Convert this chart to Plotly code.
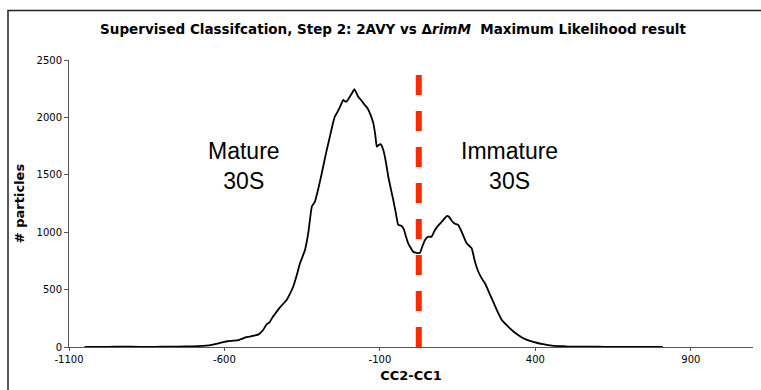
import plotly.graph_objects as go

# CC2-CC1 bin positions and particle counts
cc_diff = [-1050, -1000, -950, -900, -850, -800, -750, -700, -670, -650, -630, -615, -600, -590,
           -570, -555, -540, -530, -518, -505, -490, -475, -464, -455, -445, -432, -420, -400,
           -390, -379, -368, -357, -341, -330, -319, -309, -298, -287, -274, -261, -250, -245,
           -236, -228, -218, -212, -207, -200, -190, -182, -176, -170, -160, -153, -140, -132,
           -121, -115, -110, -104, -98, -89, -80, -73, -65, -57, -49, -41, -35, -30, -23, -16,
           -9, 0, 7, 18, 29, 37, 45, 55, 66, 77, 88, 99, 108, 115, 122, 131, 140, 152, 165,
           179, 195, 206, 216, 227, 238, 252, 265, 278, 292, 308, 324, 340, 361, 380, 404, 425,
           447, 475, 500, 550, 600, 650, 700, 750, 810]
particles = [0, 1, 2, 2, 1, 2, 4, 6, 10, 15, 25, 35, 45, 50,
             55, 60, 75, 85, 90, 100, 110, 150, 200, 215, 260, 308, 350, 409,
             460, 525, 620, 729, 845, 1000, 1222, 1266, 1380, 1513, 1680, 1832, 1960, 2006,
             2050, 2093, 2152, 2140, 2137, 2166, 2210, 2245, 2215, 2180, 2150, 2122, 2080, 2035,
             1948, 1850, 1745, 1760, 1768, 1716, 1600, 1483, 1380, 1280, 1170, 1063, 1060, 1054, 1025, 960,
             903, 860, 830, 820, 821, 880, 932, 960, 961, 1019, 1060, 1091, 1120, 1141, 1135, 1100, 1075, 1063, 990,
             903, 860, 740, 660, 600, 555, 470, 390, 310, 235, 190, 148, 113, 76, 55, 37, 25,
             15, 8, 5, 3, 2, 1, 1, 0, 0]

threshold_x = [25, 25]
threshold_y = [2370, 0]

x_ticks = [-1100, -600, -100, 400, 900]
x_tick_labels = ["-1100", "-600", "-100", "400", "900"]
y_ticks = [0, 500, 1000, 1500, 2000, 2500]

labels = ["Mature<br>30S", "Immature<br>30S"]
label_x = [-537, 318]
label_y = [1577, 1577]

fig = go.Figure()
fig.add_trace(go.Scatter(x=cc_diff, y=particles, mode="lines",
                         line=dict(color="black", width=1.8, shape="spline", smoothing=0.4),
                         showlegend=False))
fig.add_trace(go.Scatter(x=threshold_x, y=threshold_y, mode="lines",
                         line=dict(color="#FF2A00", width=6, dash="20px,16px"),
                         showlegend=False))

for t, lx, ly in zip(labels, label_x, label_y):
    fig.add_annotation(x=lx, y=ly, text=t, showarrow=False,
                       font=dict(family="Liberation Sans, Arial", size=23, color="black"),
                       xanchor="center", yanchor="middle")

# chart-area frame
fig.add_shape(type="rect", xref="paper", yref="paper",
              x0=(8 - 69) / 684, x1=(775 - 69) / 684,
              y0=(347 - 400) / 287, y1=(347 - 10.5) / 287,
              line=dict(color="#222222", width=1.5), layer="below")

fig.update_layout(
    width=761, height=390,
    margin=dict(l=69, r=8, t=60, b=43),
    paper_bgcolor="white", plot_bgcolor="white",
    title=dict(text="Supervised Classifcation, Step 2: 2AVY vs Δ<i>rimM</i>  Maximum Likelihood result",
               x=393 / 761, xanchor="center", y=1 - 29 / 390, yanchor="middle",
               font=dict(family="DejaVu Sans", size=13.5, color="black", weight="bold")),
    font=dict(family="DejaVu Sans", color="black"),
)
fig.update_xaxes(range=[-1100, 1100], tickvals=x_ticks, ticktext=x_tick_labels,
                 ticks="outside", ticklen=3,
                 tickcolor="#555555", showline=True, linecolor="#555555", linewidth=1,
                 showgrid=False, zeroline=False, tickfont=dict(size=10),
                 title=dict(text="<b>CC2-CC1</b>", font=dict(size=13), standoff=6))
fig.update_yaxes(range=[0, 2500], tickvals=y_ticks, ticks="outside", ticklen=4,
                 tickcolor="#555555", showline=True, linecolor="#555555", linewidth=1,
                 showgrid=False, zeroline=False, tickfont=dict(size=10),
                 title=dict(text="<b># particles</b>", font=dict(size=13), standoff=8))

fig.write_html("out.html")
